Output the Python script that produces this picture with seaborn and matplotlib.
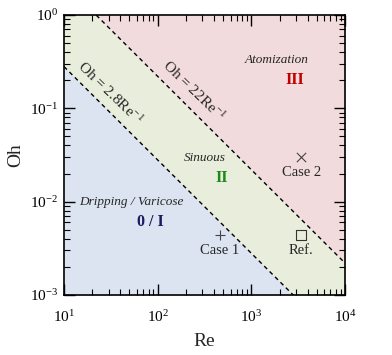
import numpy as np
import pandas as pd
import matplotlib
matplotlib.use("Agg")
import matplotlib.pyplot as plt
import seaborn as sns

# Regime boundary coefficients: Oh = c * Re^-1
boundary_coefs = [2.8, 22.0]
boundary_labels = [r"Oh = 2.8Re$^{-1}$", r"Oh = 22Re$^{-1}$"]
re_range = [10.0, 1.0e4]

# Cases
case_names = ["Case 1", "Case 2", "Ref."]
case_re = [460.0, 3400.0, 3400.0]
case_oh = [0.0044, 0.030, 0.0044]
case_markers = ["+", "x", "s"]

region_colors = ["#dbe4f0", "#e9eedc", "#f2dbdc"]

sns.set_theme(style="ticks")
plt.rcParams["font.family"] = ["Liberation Serif", "DejaVu Serif"]
plt.rcParams["mathtext.fontset"] = "custom"
plt.rcParams["mathtext.rm"] = "Liberation Serif"
plt.rcParams["mathtext.it"] = "Liberation Serif:italic"
plt.rcParams["mathtext.bf"] = "Liberation Serif:bold"

fig = plt.figure(figsize=(3.92, 3.55), dpi=100)
ax = fig.add_axes([64/392, 1 - 295/355, 281/392, 280/355])
ax.set_xscale("log")
ax.set_yscale("log")

re = np.array(re_range)
lo = boundary_coefs[0] / re
hi = boundary_coefs[1] / re
ax.fill_between(re, 1e-3, lo, color=region_colors[0], lw=0, zorder=0)
ax.fill_between(re, lo, hi, color=region_colors[1], lw=0, zorder=0)
ax.fill_between(re, hi, 1.0, color=region_colors[2], lw=0, zorder=0)

lines = pd.DataFrame({
    "Re": np.concatenate([re, re]),
    "Oh": np.concatenate([lo, hi]),
    "b": ["lo"] * 2 + ["hi"] * 2,
})
sns.lineplot(data=lines, x="Re", y="Oh", units="b", estimator=None,
             color="black", lw=1.0, ax=ax, legend=False)
for l in ax.lines:
    l.set_dashes([3, 2.5])

for name, x, y, m in zip(case_names, case_re, case_oh, case_markers):
    if m == "s":
        sns.scatterplot(x=[x], y=[y], marker="s", s=50, facecolor="none",
                        edgecolor="#333333", linewidth=0.8, ax=ax)
    else:
        sns.scatterplot(x=[x], y=[y], marker=m, s=45, color="#444444",
                        linewidth=0.8, ax=ax)
    ax.text(x, y / 1.47, name, ha="center", va="center", fontsize=10.5)

ax.set_xlim(10, 1e4)
ax.set_ylim(1e-3, 1)

# regime texts
ax.text(1880, 0.33, "Atomization", style="italic", fontsize=9.5, ha="center", va="center")
ax.text(2925, 0.20, "III", color="#c00000", fontweight="bold", fontsize=11.5, ha="center", va="center")
ax.text(320, 0.0294, "Sinuous", style="italic", fontsize=9.5, ha="center", va="center")
ax.text(486, 0.0179, "II", color="#1a8a1a", fontweight="bold", fontsize=11.5, ha="center", va="center")
ax.text(52, 0.0099, "Dripping / Varicose", style="italic", fontsize=9.5, ha="center", va="center")
ax.text(83, 0.00605, "0 / I", color="#1a1a60", fontweight="bold", fontsize=11.5, ha="center", va="center")

# boundary labels, rotated along the line
ax.text(31, 0.146, boundary_labels[0], rotation=-44, fontsize=11, ha="center", va="center",
        rotation_mode="anchor")
ax.text(244, 0.153, boundary_labels[1], rotation=-44, fontsize=11, ha="center", va="center",
        rotation_mode="anchor")

ax.set_xlabel("Re", fontsize=14, labelpad=6)
ax.set_ylabel("Oh", fontsize=14, labelpad=4)

ax.tick_params(which="both", direction="in", top=True, right=True, colors="black")
ax.tick_params(which="major", length=8, width=1.0, labelsize=11)
ax.tick_params(which="minor", length=4.5, width=0.8)
ax.tick_params(axis="x", which="major", pad=10)
ax.tick_params(axis="y", which="major", pad=4)
for s in ax.spines.values():
    s.set_linewidth(1.2)
    s.set_color("black")

fig.savefig("out.png", dpi=100)
